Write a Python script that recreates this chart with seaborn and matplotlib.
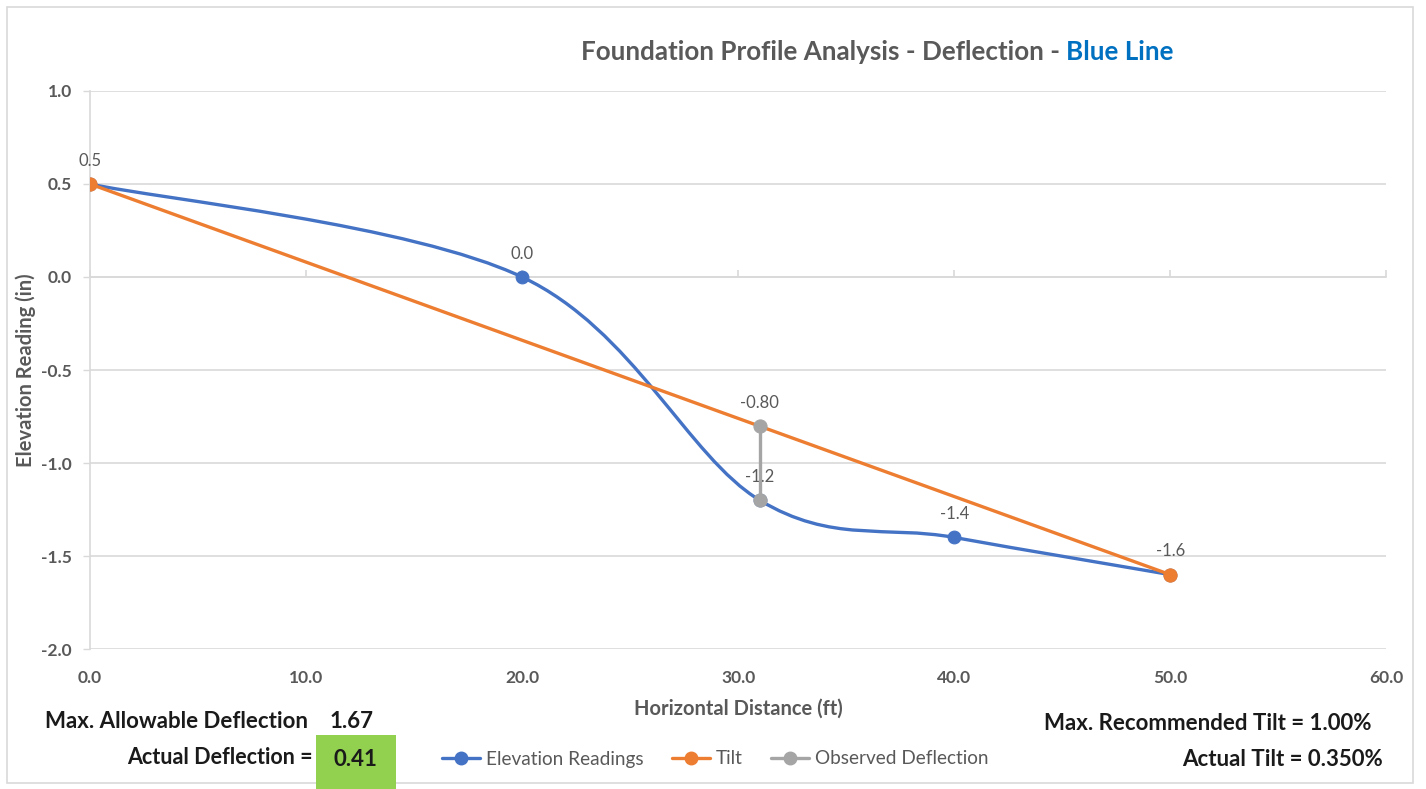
import matplotlib
matplotlib.use("Agg")
import matplotlib.pyplot as plt
from matplotlib.path import Path
from matplotlib.patches import PathPatch, Rectangle
from matplotlib.lines import Line2D
import seaborn as sns
import pandas as pd

# data
elev_x = [0, 20, 31, 40, 50]
elev_y = [0.5, 0.0, -1.2, -1.4, -1.6]
tilt_x = [0, 50]
tilt_y = [0.5, -1.6]
obs_x = [31, 31]
obs_y = [-0.8, -1.2]
label_x = [0, 20, 31, 31, 40, 50]
label_y = [0.5, 0.0, -0.8, -1.2, -1.4, -1.6]
label_txt = ["0.5", "0.0", "-0.80", "-1.2", "-1.4", "-1.6"]
x_ticks = [0, 10, 20, 30, 40, 50, 60]
y_ticks = [1.0, 0.5, 0.0, -0.5, -1.0, -1.5, -2.0]

BLUE = "#4472c4"
ORANGE = "#ed7d31"
GRAY = "#a5a5a5"
TXT = "#595959"
GRID = "#d9d9d9"
DARK = "#1a1a1a"

sns.set_theme(style="white")
plt.rcParams["font.family"] = ["Lato", "DejaVu Sans"]

fig = plt.figure(figsize=(14.26, 7.89), dpi=100)
ax = fig.add_axes([0.0631, 0.1774, 0.909, 0.7073])

# smoothed elevation line (excel-style bezier through the readings)
pts = list(zip(elev_x, elev_y))
verts = [pts[0]]
codes = [Path.MOVETO]
for i in range(len(pts) - 1):
    p0 = pts[i - 1] if i > 0 else pts[i]
    p1 = pts[i]
    p2 = pts[i + 1]
    p3 = pts[i + 2] if i + 2 < len(pts) else pts[i + 1]
    c1 = (p1[0] + (p2[0] - p0[0]) / 6, p1[1] + (p2[1] - p0[1]) / 6)
    c2 = (p2[0] - (p3[0] - p1[0]) / 6, p2[1] - (p3[1] - p1[1]) / 6)
    verts += [c1, c2, p2]
    codes += [Path.CURVE4] * 3
ax.add_patch(PathPatch(Path(verts, codes), fill=False, edgecolor=BLUE, lw=2.4, zorder=3))
sns.scatterplot(x=elev_x, y=elev_y, color=BLUE, s=85, edgecolor=BLUE, ax=ax, zorder=4)

sns.lineplot(x=tilt_x, y=tilt_y, color=ORANGE, lw=2.4, marker="o", markersize=9.5,
             markeredgecolor=ORANGE, ax=ax, zorder=5)
sns.lineplot(x=obs_x, y=obs_y, color=GRAY, lw=2.4, marker="o", markersize=9.5,
             markeredgecolor=GRAY, ax=ax, zorder=6, orient="y")

for x, y, t in zip(label_x, label_y, label_txt):
    ax.annotate(t, (x, y), xytext=(0, 11), textcoords="offset points", ha="center",
                va="bottom", fontsize=12, color=TXT)

ax.set_xlim(0, 60)
ax.set_ylim(-2.0, 1.0)
ax.set_xticks(x_ticks)
ax.set_xticklabels([f"{v:.1f}" for v in x_ticks])
ax.set_yticks(y_ticks)
ax.set_yticklabels([f"{v:.1f}" for v in y_ticks])
ax.tick_params(axis="x", length=0, pad=15, labelsize=12.5, labelcolor=TXT)
ax.tick_params(axis="y", length=5, width=1, color=GRID, pad=8, labelsize=12.5, labelcolor=TXT, left=True)
for lab in ax.get_xticklabels() + ax.get_yticklabels():
    lab.set_fontweight("bold")
ax.yaxis.grid(True, color=GRID, lw=1.2)
ax.xaxis.grid(False)
for s in ["top", "right", "bottom"]:
    ax.spines[s].set_visible(False)
ax.spines["left"].set_color(GRID)
ax.spines["left"].set_linewidth(1.2)

# axis line crossing at y = 0 with outward tick marks
sec = ax.secondary_xaxis(2 / 3)
sec.set_xticks(x_ticks)
sec.set_xticklabels([])
sec.tick_params(length=5, width=1.2, color=GRID, direction="out")
for s in sec.spines.values():
    s.set_visible(False)
sec.spines["bottom"].set_visible(True)
sec.spines["bottom"].set_color(GRID)
sec.spines["bottom"].set_linewidth(1.2)

ax.set_xlabel("Horizontal Distance (ft)", fontsize=14.5, color=TXT, fontweight="bold")
ax.set_ylabel("Elevation Reading (in)", fontsize=14.5, color=TXT, fontweight="bold")
ax.xaxis.set_label_coords(0.5, -0.0896)
ax.yaxis.set_label_coords(-0.0417, 0.5)

fig.text(1066 / 1426, 1 - 52 / 789, "Foundation Profile Analysis - Deflection - ", ha="right", va="center",
         fontsize=18.7, fontweight="bold", color=TXT)
fig.text(1066 / 1426, 1 - 52 / 789, "Blue Line", ha="left", va="center", fontsize=18.7,
         fontweight="bold", color="#0070c0")

handles = [Line2D([], [], color=c, lw=2.4, marker="o", markersize=9) for c in (BLUE, ORANGE, GRAY)]
fig.legend(handles, ["Elevation Readings", "Tilt", "Observed Deflection"], loc="center",
           bbox_to_anchor=(715 / 1426, 1 - 759 / 789), ncol=3, frameon=False, fontsize=13.7,
           labelcolor=TXT, handlelength=2.0, columnspacing=1.5, handletextpad=0.3)

# summary boxes
fig.patches.append(Rectangle((316 / 1426, 0.0), 80 / 1426, 54 / 789, transform=fig.transFigure,
                             facecolor="#92d050", edgecolor="none", zorder=1))
fig.text(308 / 1426, 1 - 722 / 789, "Max. Allowable Deflection", ha="right", va="center",
         fontsize=16, fontweight="bold", color=DARK)
fig.text(330 / 1426, 1 - 722 / 789, "1.67", ha="left", va="center",
         fontsize=16, fontweight="bold", color=DARK)
fig.text(313 / 1426, 1 - 757 / 789, "Actual Deflection =", ha="right", va="center",
         fontsize=15.5, fontweight="bold", color=DARK)
fig.text(333 / 1426, 1 - 759 / 789, "0.41", ha="left", va="center",
         fontsize=16, fontweight="bold", color=DARK)
fig.text(1372 / 1426, 1 - 723 / 789, "Max. Recommended Tilt = 1.00%", ha="right", va="center",
         fontsize=16, fontweight="bold", color=DARK)
fig.text(1383 / 1426, 1 - 760 / 789, "Actual Tilt = 0.350%", ha="right", va="center",
         fontsize=16, fontweight="bold", color=DARK)

fig.patches.append(Rectangle((7 / 1426, 6 / 789), 1406 / 1426, 776 / 789, transform=fig.transFigure,
                             facecolor="none", edgecolor=GRID, lw=1.2, zorder=0))

fig.savefig("out.png", dpi=100)
